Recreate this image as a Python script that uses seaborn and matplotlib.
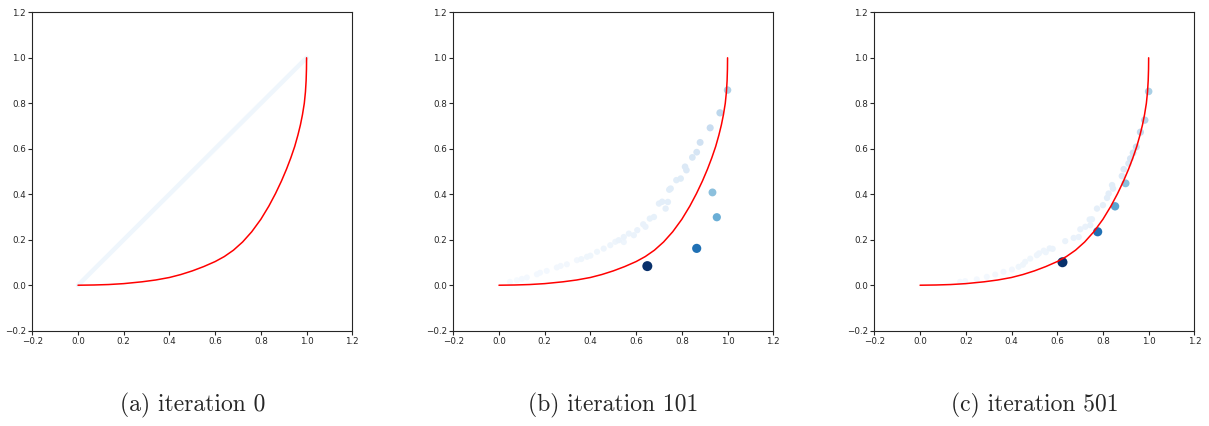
import numpy as np
import pandas as pd
import matplotlib
matplotlib.use("Agg")
import matplotlib.pyplot as plt
import seaborn as sns

# red reference front
front_x = [0.0, 0.07, 0.134, 0.2, 0.28, 0.34, 0.4, 0.45, 0.5, 0.55, 0.6, 0.64, 0.68,
           0.72, 0.76, 0.80, 0.835, 0.864, 0.89, 0.912, 0.931, 0.948, 0.962, 0.973,
           0.982, 0.990, 0.995, 0.998, 0.9995, 1.0]
front_y = [0.0, 0.001, 0.003, 0.007, 0.015, 0.023, 0.034, 0.047, 0.063, 0.082, 0.104,
           0.126, 0.154, 0.19, 0.235, 0.29, 0.348, 0.403, 0.458, 0.51, 0.56, 0.61, 0.66,
           0.705, 0.75, 0.8, 0.85, 0.9, 0.95, 1.0]

# iteration 0: all points sit on the diagonal
diag_x = [0.0, 1.0]
diag_y = [0.0, 1.0]

# iteration 101
b_x = [0.649, 0.865, 0.953, 0.934, 1.000, 0.967, 0.924, 0.880,
       0.865, 0.846, 0.814, 0.820, 0.795, 0.776, 0.751, 0.745, 0.739, 0.714, 0.700,
       0.729, 0.678, 0.660, 0.631, 0.641, 0.605, 0.590, 0.568, 0.546, 0.524, 0.509,
       0.546, 0.487, 0.458, 0.429, 0.400, 0.385, 0.360, 0.341, 0.297, 0.270, 0.253,
       0.209, 0.180, 0.166, 0.122, 0.100, 0.078, 0.048]
b_y = [0.084, 0.162, 0.299, 0.408, 0.858, 0.758, 0.692, 0.628,
       0.585, 0.562, 0.521, 0.506, 0.469, 0.462, 0.425, 0.420, 0.366, 0.367, 0.359,
       0.337, 0.300, 0.293, 0.268, 0.257, 0.242, 0.220, 0.227, 0.212, 0.198, 0.191,
       0.190, 0.176, 0.161, 0.147, 0.130, 0.125, 0.115, 0.110, 0.092, 0.085, 0.078,
       0.063, 0.055, 0.048, 0.034, 0.028, 0.022, 0.015]
b_shade = [1.0, 0.75, 0.5, 0.42, 0.33, 0.28, 0.24, 0.2,
           0.17, 0.16, 0.14, 0.14, 0.12, 0.11, 0.11, 0.11, 0.1, 0.1, 0.09,
           0.09, 0.08, 0.08, 0.07, 0.07, 0.07, 0.06, 0.06, 0.06, 0.06, 0.05,
           0.05, 0.05, 0.05, 0.04, 0.04, 0.04, 0.04, 0.03, 0.03, 0.03, 0.03,
           0.02, 0.02, 0.02, 0.02, 0.02, 0.01, 0.01]

# iteration 501
c_x = [0.623, 0.777, 0.853, 0.899, 1.000, 0.983, 0.964, 0.946, 0.932, 0.920,
       0.912, 0.891, 0.883, 0.840, 0.844, 0.825, 0.818, 0.800, 0.774, 0.752,
       0.742, 0.745, 0.723, 0.701, 0.694, 0.672, 0.635, 0.580, 0.567, 0.550,
       0.541, 0.520, 0.511, 0.482, 0.460, 0.450, 0.431, 0.402, 0.365, 0.329,
       0.292, 0.248, 0.197, 0.175]
c_y = [0.101, 0.235, 0.347, 0.448, 0.852, 0.726, 0.673, 0.608, 0.582, 0.557,
       0.535, 0.510, 0.480, 0.440, 0.425, 0.403, 0.384, 0.352, 0.337, 0.290,
       0.289, 0.264, 0.257, 0.246, 0.212, 0.208, 0.194, 0.160, 0.162, 0.145,
       0.152, 0.140, 0.132, 0.117, 0.103, 0.090, 0.081, 0.069, 0.059, 0.047,
       0.037, 0.026, 0.018, 0.015]
c_shade = [1.0, 0.75, 0.55, 0.42, 0.34, 0.3, 0.26, 0.22, 0.19, 0.17,
           0.14, 0.14, 0.13, 0.11, 0.11, 0.1, 0.1, 0.09, 0.09, 0.08,
           0.08, 0.08, 0.07, 0.07, 0.07, 0.07, 0.06, 0.06, 0.06, 0.05,
           0.05, 0.05, 0.05, 0.04, 0.04, 0.04, 0.04, 0.03, 0.03, 0.03,
           0.02, 0.02, 0.02, 0.02]

ticks = [-0.2, 0.0, 0.2, 0.4, 0.6, 0.8, 1.0, 1.2]
captions = ["(a) iteration 0", "(b) iteration 101", "(c) iteration 501"]

sns.set_style("ticks")
plt.rcParams["font.family"] = ["DejaVu Sans"]

fig = plt.figure(figsize=(12.09, 4.26), dpi=100)
lefts = [0.0267, 0.3749, 0.7232]
axes = [fig.add_axes([l, 0.2237, 0.2647, 0.7474]) for l in lefts]

front = pd.DataFrame({"x": front_x, "y": front_y})
blues = sns.color_palette("Blues", as_cmap=True)

# panel a
sns.lineplot(x=diag_x, y=diag_y, ax=axes[0], color=blues(0.04), linewidth=3.2,
             solid_capstyle="round")

for ax, xs, ys, sh in [(axes[1], b_x, b_y, b_shade), (axes[2], c_x, c_y, c_shade)]:
    df = pd.DataFrame({"x": xs, "y": ys, "shade": sh}).sort_values("shade")
    sns.scatterplot(data=df, x="x", y="y", hue="shade", size="shade",
                    palette="Blues", hue_norm=(0, 1), sizes=(18, 52), size_norm=(0, 1),
                    linewidth=0, legend=False, ax=ax, zorder=2)

for ax, cap in zip(axes, captions):
    sns.lineplot(data=front, x="x", y="y", ax=ax, color="red", linewidth=1.1,
                 estimator=None, sort=False, zorder=3)
    ax.set_xlim(-0.2, 1.2)
    ax.set_ylim(-0.2, 1.2)
    ax.set_xticks(ticks)
    ax.set_yticks(ticks)
    ax.tick_params(labelsize=6.3, length=3, width=0.8, pad=1.5)
    ax.set_xlabel("")
    ax.set_ylabel("")
    for s in ax.spines.values():
        s.set_linewidth(0.8)
    pos = ax.get_position()
    fig.text(pos.x0 + pos.width / 2, 0.049, cap, ha="center", va="center",
             fontsize=17, family="cmr10")

fig.savefig("out.png", dpi=100)
